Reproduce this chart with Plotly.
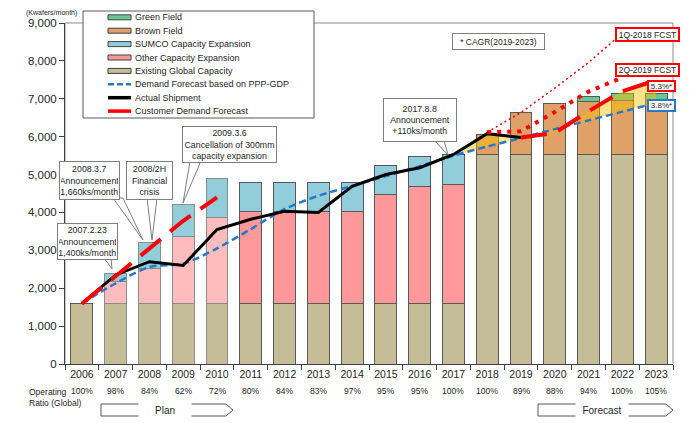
import plotly.graph_objects as go

# ---- data (Kwafers/month) ----
years = [str(y) for y in range(2006, 2024)]
operating_ratio = ['100%', '98%', '84%', '62%', '72%', '80%', '84%', '83%', '97%',
                   '95%', '95%', '100%', '100%', '89%', '88%', '94%', '100%', '105%']
plan_years = ['2007', '2008', '2009', '2010']

existing_capacity = [1600] * 12 + [5520] * 6
other_expansion = [None, 580, 920, 1770, 2270, 2430, 2430, 2430, 2430, 2880, 3090, 3150] + [None] * 6
sumco_expansion = [None, 210, 680, 830, 1030, 770, 770, 770, 770, 770, 780, 780] + [None] * 6
brown_field = [None] * 12 + [540, 1130, 1350, 1420, 1440, 1440]
green_field = [None] * 15 + [115, 190, 190]

actual_shipment = [1600, 2350, 2700, 2600, 3550, 3820, 4030, 4000, 4690, 5000,
                   5180, 5530, 6080, 5980] + [None] * 4
ppp_gdp_demand = [1600, 2130, 2560, 2650, 3050, 3560, 4090, 4440, 4700, 4960,
                  5220, 5500, 5740, 5965, 6200, 6430, 6660, 6890]
customer_fcst = [1590, 2330, 3050, 3780, 4400] + [None] * 8 + [5980, 6100, 6670, 7200, 7490]
fcst_1q2018 = [None] * 12 + [6120, 6640, 7280, 7960, 8730, None]
fcst_2q2019 = [None] * 12 + [6120, 6140, 6650, 7190, 7560, None]

# ---- styling ----
FONT = "Arial, 'Liberation Sans', sans-serif"
C_EXIST = '#C4BD97'
C_OTHER = '#FF9999'
C_OTHER_PLAN = '#FFBCBC'
C_SUMCO = '#92CDDC'
C_BROWN = '#DFA167'
C_GREEN = '#66C994'
C_BLUE = '#2878C8'
C_RED = '#FF0000'

W, H = 698, 423
L, R, T, B = 65, 25, 23, 59


def px(x):
    # pixel x -> paper
    return (x - L) / (W - L - R)


def py(y):
    # pixel y -> paper
    return (H - B - y) / (H - T - B)


def note(x, y, text, **kw):
    # annotation placed by pixel position, centred unless told otherwise
    opts = dict(xref='paper', yref='paper', xanchor='center', yanchor='middle', showarrow=False)
    opts.update(kw)
    fig.add_annotation(x=px(x), y=py(y), text=text, **opts)


edge = ['#8C8C8C' if y in plan_years else '#595959' for y in years]
other_cols = [C_OTHER_PLAN if y in plan_years else C_OTHER for y in years]

fig = go.Figure()

for name, vals, col in [('Existing Global Capacity', existing_capacity, C_EXIST),
                        ('Other Capacity Expansion', other_expansion, other_cols),
                        ('SUMCO Capacity Expansion', sumco_expansion, C_SUMCO),
                        ('Brown Field', brown_field, C_BROWN),
                        ('Green Field', green_field, C_GREEN)]:
    fig.add_trace(go.Bar(x=years, y=vals, name=name, marker_color=col,
                         marker_line=dict(color=edge, width=1), showlegend=False))

# yellow band between customer forecast and PPP-GDP demand
band_x = years[11:]
band_low = ppp_gdp_demand[11:]
band_high = actual_shipment[11:13] + customer_fcst[13:]
fig.add_trace(go.Scatter(x=band_x, y=band_low, mode='lines', line=dict(width=0),
                         showlegend=False, hoverinfo='skip'))
fig.add_trace(go.Scatter(x=band_x, y=band_high, mode='lines', line=dict(width=0),
                         fill='tonexty', fillcolor='rgba(255,192,0,0.45)',
                         showlegend=False, hoverinfo='skip'))

fig.add_trace(go.Scatter(x=years, y=ppp_gdp_demand, mode='lines', name='Demand Forecast based on PPP-GDP',
                         line=dict(color=C_BLUE, width=2.5, dash='7px,4px', shape='spline', smoothing=0.8),
                         showlegend=False))
fig.add_trace(go.Scatter(x=years, y=actual_shipment, mode='lines', name='Actual Shipment',
                         line=dict(color='black', width=3), showlegend=False))
fig.add_trace(go.Scatter(x=years, y=fcst_1q2018, mode='lines', name='1Q-2018 FCST',
                         line=dict(color=C_RED, width=1.5, dash='2px,3px'), showlegend=False))
fig.add_trace(go.Scatter(x=years, y=fcst_2q2019, mode='lines', name='2Q-2019 FCST',
                         line=dict(color=C_RED, width=4, dash='4px,6px'), showlegend=False))
fig.add_trace(go.Scatter(x=years, y=customer_fcst, mode='lines', name='Customer Demand Forecast',
                         line=dict(color=C_RED, width=4, dash='26px,12px'), showlegend=False))

fig.update_layout(
    width=W, height=H, barmode='stack', bargap=0.35,
    margin=dict(l=L, r=R, t=T, b=B),
    plot_bgcolor='white', paper_bgcolor='white',
    font=dict(family=FONT, color='#262626'),
    showlegend=False,
)
fig.update_xaxes(type='category', range=[-0.5, 17.5], showline=True, linecolor='#404040',
                 ticks='outside', tickson='boundaries', ticklen=5, tickcolor='#404040',
                 tickfont=dict(size=10.5), showgrid=False)
fig.update_yaxes(range=[0, 9000], dtick=1000, tickformat=',', showline=True, linecolor='#404040',
                 ticks='outside', ticklen=5, tickcolor='#404040', tickfont=dict(size=11.5),
                 showgrid=False)

# plot frame (top/right grey)
fig.add_shape(type='rect', xref='paper', yref='paper', x0=0, x1=1, y0=0, y1=1,
              line=dict(color='#8C8C8C', width=1), layer='below')

# unit label
note(51, 13, '(Kwafers/month)', font=dict(size=7))

# operating ratio row (category axis -> use the serial index for x)
note(27, 385, 'Operating<br>Ratio (Global)', xanchor='left', yanchor='top', align='left',
     font=dict(size=8.5))
for i, ratio in enumerate(operating_ratio):
    fig.add_annotation(x=i, y=py(391), xref='x', yref='paper', xanchor='center', yanchor='middle',
                       text=ratio, showarrow=False, font=dict(size=8.5))

# Plan / Forecast arrows
for label, x0, x1, xt in [('Plan', 101, 233, 165), ('Forecast', 538, 673, 602)]:
    path = 'M {},{} L {},{} L {},{} L {},{} L {},{} Z'.format(
        px(x0), py(404), px(x1 - 7), py(404), px(x1), py(410), px(x1 - 7), py(416), px(x0), py(416))
    fig.add_shape(type='path', path=path, xref='paper', yref='paper',
                  line=dict(color='#595959', width=1), fillcolor='white')
    note(xt, 410, label, bgcolor='white', width=52, height=16, borderpad=0,
         font=dict(size=10, color='#262626'))

# callouts: text, box (x0, y0, x1, y1) and tail points in pixels
callouts = [
    ('2007.2.23<br>Announcement<br>1,400ks/month', (57, 223, 118, 260), [(104, 258), (111, 258), (112, 269)]),
    ('2008.3.7<br>Announcement<br>1,660ks/month', (59, 161, 120, 200), [(113, 198), (123, 198), (143, 240)]),
    ('2008/2H<br>Financial<br>crisis', (126, 161, 173, 200), [(147, 198), (157, 198), (152, 240)]),
    ('2009.3.6<br>Cancellation of 300mm<br>capacity expansion', (182, 126, 277, 163), [(190, 161), (201, 161), (183, 203)]),
    ('2017.8.8<br>Announcement<br>+110ks/month', (383, 98, 457, 142), [(434, 140), (444, 140), (448, 155)]),
]
for text, (x0, y0, x1, y1), tail in callouts:
    (ax, ay), (bx, by), (tx, ty) = tail
    fig.add_shape(type='path', xref='paper', yref='paper',
                  path='M {},{} L {},{} L {},{} Z'.format(px(ax), py(ay), px(tx), py(ty), px(bx), py(by)),
                  line=dict(color='#7F7F7F', width=1), fillcolor='white')
    note((x0 + x1) / 2, (y0 + y1) / 2, text, bgcolor='white', bordercolor='#7F7F7F',
         borderwidth=1, borderpad=1, width=x1 - x0 - 4, height=y1 - y0 - 4,
         font=dict(size=8.8, color='#262626'))

# labelled boxes on the forecast side
tags = [
    ('* CAGR(2019-2023)', (452, 33, 545, 50), '#7F7F7F', 1, 8.5),
    ('1Q-2018 FCST', (615, 27, 680, 42), C_RED, 2, 8.5),
    ('2Q-2019 FCST', (615, 63, 680, 77), C_RED, 2, 8.5),
    ('5.3%*', (647, 80, 676, 92), C_RED, 2, 8),
    ('3.8%*', (647, 99, 676, 112), C_BLUE, 2, 8),
]
for text, (x0, y0, x1, y1), bc, bw, fs in tags:
    note((x0 + x1) / 2, (y0 + y1) / 2, text, bgcolor='white', bordercolor=bc,
         borderwidth=bw, borderpad=0, width=x1 - x0 - 2 * bw, height=y1 - y0 - 2 * bw,
         font=dict(size=fs, color='#262626'))

# legend box drawn by hand to keep the compact row spacing
fig.add_shape(type='rect', xref='paper', yref='paper', x0=px(83), x1=px(314), y0=py(118), y1=py(11),
              line=dict(color='#595959', width=1), fillcolor='white')
legend_items = [
    ('Green Field', 'bar', C_GREEN),
    ('Brown Field', 'bar', C_BROWN),
    ('SUMCO Capacity Expansion', 'bar', C_SUMCO),
    ('Other Capacity Expansion', 'bar', C_OTHER),
    ('Existing Global Capacity', 'bar', C_EXIST),
    ('Demand Forecast based on PPP-GDP', 'dash', C_BLUE),
    ('Actual Shipment', 'solid', 'black'),
    ('Customer Demand Forecast', 'solid', C_RED),
]
for k, (name, kind, col) in enumerate(legend_items):
    yc = 17.3 + 13.4 * k
    if kind == 'bar':
        fig.add_shape(type='rect', xref='paper', yref='paper', x0=px(108), x1=px(131),
                      y0=py(yc + 2.5), y1=py(yc - 2.5), fillcolor=col,
                      line=dict(color='#404040', width=1))
    else:
        fig.add_shape(type='line', xref='paper', yref='paper', x0=px(108), x1=px(131),
                      y0=py(yc), y1=py(yc),
                      line=dict(color=col, width=2.5 if kind == 'dash' else 3.5,
                                dash='6px,3px' if kind == 'dash' else 'solid'))
    note(133, yc, name, xanchor='left', font=dict(size=9, color='#262626'))

fig.write_html("out.html", config={'displayModeBar': False},
               post_script="document.body.style.margin = '0';")
